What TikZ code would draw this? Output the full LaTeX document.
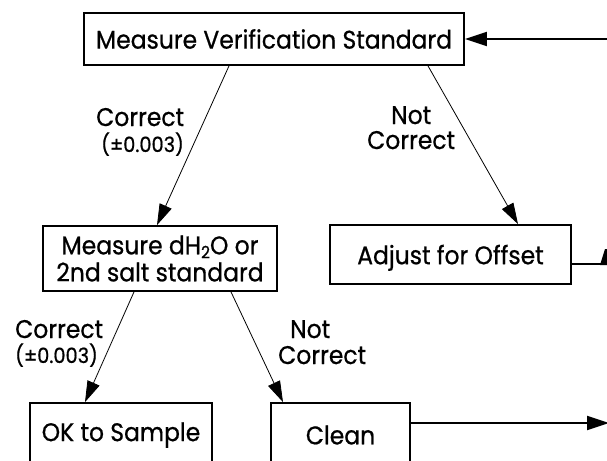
\documentclass[tikz,border=0pt]{standalone}
\usepackage{fontspec}
\setmainfont{Poppins}[FakeBold=0.7,FakeStretch=0.92]
\usetikzlibrary{arrows.meta,calc}
\begin{document}
\begin{tikzpicture}[x=1pt,y=-1pt,
  box/.style={draw,line width=1.8pt,inner sep=0pt,align=center,font=\fontsize{25.5}{27}\selectfont},
  lbl/.style={inner sep=0pt,anchor=base west,text height=17pt,text depth=0pt,font=\fontsize{25.5}{27}\selectfont},
  slbl/.style={inner sep=0pt,anchor=base west,text height=14pt,text depth=0pt,font=\fontsize{21}{22}\selectfont},
  thin/.style={line width=0.8pt,-{Triangle[length=21pt,width=13pt]}},
  thick/.style={line width=2pt,-{Triangle[length=22pt,width=14pt]}}]
\useasboundingbox (0,0) rectangle (607,460);
\clip (0,0) rectangle (607,460);
\fill[white] (0,0) rectangle (607,460);
\node[box,minimum width=380pt,minimum height=52pt] (top) at (274,39) {Measure Verification Standard};
\node[box,minimum width=234pt,minimum height=65pt] (dh) at (160,258.5) {Measure dH\raisebox{-4pt}{\fontsize{17}{17}\selectfont 2}O or\\2nd salt standard};
\node[box,minimum width=241pt,minimum height=59pt,text depth=0pt] (adj) at (450.5,254.5) {Adjust for Offset};
\node[box,minimum width=182pt,minimum height=64pt] (ok) at (121,435) {OK to Sample};
\node[box,minimum width=139pt,minimum height=64pt] (clean) at (340.5,435) {Clean};
\coordinate (r1) at (607,39);
\coordinate (r2) at (609,423);
\coordinate (r3) at (601,264);
\draw[thick] (r1) -- (top.east);
\draw[thick] ([yshift=12pt]clean.east) -- (r2);
\draw[line width=2pt] ([yshift=-9.5pt]adj.east) -- (r3);
\fill (600,265) -- (605,249) -- (607,249) -- (607,265) -- cycle;
\draw[thin] ([xshift=-45pt]top.south) -- ([xshift=-3pt]dh.north);
\draw[thin] ([xshift=154pt]top.south) -- ([xshift=67.5pt]adj.north);
\draw[thin] ([xshift=-26pt]dh.south) -- ([xshift=-36pt]ok.north);
\draw[thin] ([xshift=71pt]dh.south) -- ([xshift=-57.5pt]clean.north);
\node[lbl] (c1) at (96,126) {Correct};
\node[slbl] (t1) at (101,152) {(±0.003)};
\node[lbl] (n1) at (391,124) {Not};
\node[lbl] (c2) at (367,149) {Correct};
\node[lbl] (c3) at (15,338) {Correct};
\node[slbl] (t2) at (15,363) {(±0.003)};
\node[lbl] (n2) at (290,338) {Not};
\node[lbl] (c4) at (278,364) {Correct};
\end{tikzpicture}
\end{document}
